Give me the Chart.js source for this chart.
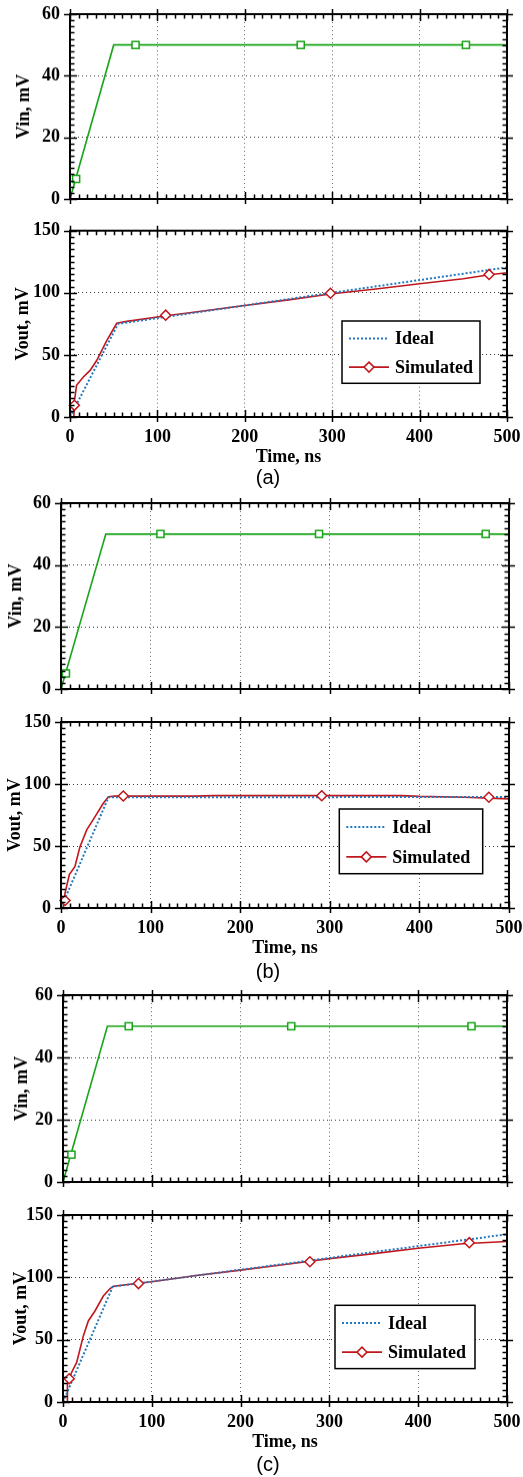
<!DOCTYPE html>
<html>
<head>
<meta charset="utf-8">
<script src="https://cdn.jsdelivr.net/npm/chart.js@4.4.1/dist/chart.umd.min.js"></script>
<style>
  body { margin: 0; background: #fff; width: 523px; height: 1477px; position: relative; overflow: hidden; }
  .box { position: absolute; left: 0; width: 523px; }
  .cap { position: absolute; left: 0; width: 536px; height: 24px; line-height: 24px; text-align: center;
         font: 20px "Liberation Sans", Arial, sans-serif; color: #000; }
</style>
</head>
<body>
<div class="box" style="top:0px;height:204.5px"><canvas id="c0"></canvas></div>
<div class="box" style="top:220px;height:248px"><canvas id="c1"></canvas></div>
<div class="cap" style="top:466px">(a)</div>
<div class="box" style="top:490px;height:204.5px"><canvas id="c2"></canvas></div>
<div class="box" style="top:712px;height:247px"><canvas id="c3"></canvas></div>
<div class="cap" style="top:960px">(b)</div>
<div class="box" style="top:982px;height:205.5px"><canvas id="c4"></canvas></div>
<div class="box" style="top:1205px;height:248px"><canvas id="c5"></canvas></div>
<div class="cap" style="top:1453px">(c)</div>

<script>
// axis ticks
const timeTicks = [0, 100, 200, 300, 400, 500];
const vinTicks = [0, 20, 40, 60];
const voutTicks = [0, 50, 100, 150];

// (a) input
const vinAT = [0, 50, 500];
const vinAV = [0, 50, 50];
const vinAMarkT = [7, 75, 264, 453];
const vinAMarkV = [6.5, 50, 50, 50];
// (a) output
const idealAT = [0, 55, 500];
const idealAV = [0, 75, 120.5];
const simAT = [3.5, 4.5, 7.5, 15, 23, 30.5, 42, 53.5, 65, 110, 137, 200, 250, 300, 350, 400, 450, 480, 500];
const simAV = [0, 10, 25.5, 32, 37.5, 45.5, 61.5, 75.5, 77, 81.5, 84, 89.8, 94.3, 99.2, 103, 107.3, 111.3, 114.5, 116.2];
const simAMarkT = [5, 109.5, 298, 479.5];
const simAMarkV = [9.4, 82, 99.6, 114.8];

// (b) input
const vinBT = [0, 50, 500];
const vinBV = [0, 50, 50];
const vinBMarkT = [5.5, 111, 288, 474];
const vinBMarkV = [5, 50, 50, 50];
// (b) output
const idealBT = [0, 53, 500];
const idealBV = [0, 89.3, 89.5];
const simBT = [2.6, 4.5, 9.3, 15.6, 21, 28.7, 38, 47.2, 53, 60, 150, 170, 250, 380, 400, 450, 500];
const simBV = [0, 12, 27, 33.5, 49, 63, 73.7, 84.5, 89.8, 90.2, 90.2, 90.6, 90.6, 90.6, 90, 89.3, 88];
const simBMarkT = [4.5, 69.5, 291, 477.5];
const simBMarkV = [6, 90.3, 90.5, 89.3];

// (c) input
const vinCT = [0, 50, 500];
const vinCV = [0, 50, 50];
const vinCMarkT = [9.5, 74, 257, 460];
const vinCMarkV = [8.8, 50, 50, 50];
// (c) output
const idealCT = [0, 56, 500];
const idealCV = [0, 92.5, 134.5];
const simCT = [4.8, 5, 9.8, 15.4, 22.9, 28.5, 36, 45.4, 53, 57, 100, 150, 200, 250, 300, 350, 400, 450, 500];
const simCV = [0, 14.6, 23.9, 31.8, 53, 65, 73, 85, 91, 92.8, 96.5, 101.5, 105.8, 110.3, 115, 119, 123.3, 127, 128.8];
const simCMarkT = [7, 85, 278, 457.5];
const simCMarkV = [18.6, 95, 112.5, 127.8];

const FONT = '"Liberation Serif", "Times New Roman", serif';
const GREEN = '#17a317';
const BLUE = '#2379c0';
const RED = '#c0161c';

// per-canvas frame settings (minor tick steps, legend box placement)
const frameCfg = {};

function pts(t, v) {
  return t.map((tt, i) => ({ x: tt, y: v[i] }));
}

// frame, inward minor ticks and the boxed legend
const framePlugin = {
  id: 'frame',
  afterDraw(chart) {
    const cfg = frameCfg[chart.canvas.id];
    const { ctx, chartArea: a } = chart;
    const xs = chart.scales.x, ys = chart.scales.y;
    ctx.save();
    ctx.strokeStyle = '#000';
    ctx.lineWidth = 1.5;
    ctx.setLineDash([]);
    ctx.beginPath();
    const isMajor = (v, step) => Math.abs(v / step - Math.round(v / step)) < 1e-6;
    for (let v = xs.min; v <= xs.max + 1e-6; v += cfg.xMinor) {
      const px = Math.round(xs.getPixelForValue(v)) + 0.5;
      const m = isMajor(v, cfg.xMajor);
      const inL = m ? 7 : 4.5, outL = m ? 5 : 0;
      ctx.moveTo(px, a.bottom + outL); ctx.lineTo(px, a.bottom - inL);
      ctx.moveTo(px, a.top - outL); ctx.lineTo(px, a.top + inL);
    }
    for (let v = ys.min; v <= ys.max + 1e-6; v += cfg.yMinor) {
      const py = Math.round(ys.getPixelForValue(v)) + 0.5;
      const m = isMajor(v, cfg.yMajor);
      const inL = m ? 7 : 4.5, outL = m ? 6 : 0;
      ctx.moveTo(a.left - outL, py); ctx.lineTo(a.left + inL, py);
      ctx.moveTo(a.right + outL, py); ctx.lineTo(a.right - inL, py);
    }
    ctx.stroke();
    ctx.lineWidth = 2;
    ctx.strokeRect(a.left, a.top, a.right - a.left, a.bottom - a.top);

    const lg = cfg.legend;
    if (lg) {
      const x0 = a.right - lg.right - lg.w, y0 = a.bottom - lg.bottom - lg.h;
      ctx.fillStyle = '#fff';
      ctx.fillRect(x0, y0, lg.w, lg.h);
      ctx.lineWidth = 1.5;
      ctx.strokeStyle = '#000';
      ctx.strokeRect(x0, y0, lg.w, lg.h);
      const items = chart.data.datasets.filter(d => d.inLegend);
      items.sort((p, q) => p.legendIndex - q.legendIndex);
      items.forEach((d, i) => {
        const yy = y0 + lg.h * (i === 0 ? 0.28 : 0.74);
        ctx.save();
        ctx.strokeStyle = d.borderColor;
        ctx.lineWidth = d.borderWidth;
        ctx.setLineDash(d.borderDash || []);
        ctx.beginPath();
        ctx.moveTo(x0 + 7, yy); ctx.lineTo(x0 + 47, yy);
        ctx.stroke();
        ctx.restore();
        if (d.legendMarker) {
          ctx.save();
          ctx.setLineDash([]);
          ctx.fillStyle = '#fff';
          ctx.strokeStyle = d.borderColor;
          ctx.lineWidth = 1.5;
          ctx.beginPath();
          ctx.moveTo(x0 + 22, yy); ctx.lineTo(x0 + 27, yy - 5);
          ctx.lineTo(x0 + 32, yy); ctx.lineTo(x0 + 27, yy + 5);
          ctx.closePath();
          ctx.fill(); ctx.stroke();
          ctx.restore();
        }
        ctx.fillStyle = '#000';
        ctx.font = 'bold 18px ' + FONT;
        ctx.textAlign = 'left';
        ctx.textBaseline = 'middle';
        ctx.fillText(d.label, x0 + 53, yy + 1);
      });
    }
    ctx.restore();
  }
};

function makeChart(id, p, datasets) {
  const yTicks = p.kind === 'vin' ? vinTicks : voutTicks;
  const tickFont = { family: FONT, size: 18, weight: 'bold' };
  frameCfg[id] = {
    xMinor: 10, xMajor: 100,
    yMinor: p.kind === 'vin' ? 2 : 5,
    yMajor: p.kind === 'vin' ? 20 : 50,
    legend: p.legend
  };
  return new Chart(document.getElementById(id), {
    type: 'line',
    data: { datasets: datasets },
    plugins: [framePlugin],
    options: {
      responsive: true,
      maintainAspectRatio: false,
      animation: false,
      events: [],
      layout: { padding: { top: p.padTop, right: p.padRight, left: 0, bottom: 0 } },
      plugins: {
        legend: { display: false },
        tooltip: { enabled: false }
      },
      scales: {
        x: {
          type: 'linear',
          min: timeTicks[0],
          max: timeTicks[timeTicks.length - 1],
          afterBuildTicks: s => { s.ticks = timeTicks.map(v => ({ value: v })); },
          afterFit: s => { s.height = p.xHeight; s.paddingLeft = 0; s.paddingRight = 0; },
          grid: { drawTicks: false, color: 'rgba(70,70,70,0.8)', lineWidth: 1 },
          border: { display: false, dash: [1, 3] },
          ticks: { display: p.kind === 'vout', autoSkip: false, maxRotation: 0, padding: 9.2, color: '#000', font: tickFont },
          title: { display: p.kind === 'vout', text: 'Time, ns', color: '#000', font: tickFont, padding: { top: 0, bottom: 0 } }
        },
        y: {
          type: 'linear',
          min: yTicks[0],
          max: yTicks[yTicks.length - 1],
          afterBuildTicks: s => { s.ticks = yTicks.map(v => ({ value: v })); },
          afterFit: s => { s.width = p.left; s.paddingTop = 0; s.paddingBottom = 0; },
          grid: { drawTicks: false, color: 'rgba(30,30,30,0.9)', lineWidth: 1 },
          border: { display: false, dash: [1, 3] },
          ticks: { autoSkip: false, padding: 10, color: '#000', font: tickFont },
          title: { display: true, text: p.kind === 'vin' ? 'Vin, mV' : 'Vout, mV', color: '#000', font: tickFont,
                   padding: { top: p.titlePad, bottom: 0 } }
        }
      }
    }
  });
}

function vinSets(t, v, mt, mv) {
  return [
    { data: pts(mt, mv), showLine: false, pointStyle: 'rect', pointRadius: 5, pointBorderWidth: 1.5,
      pointBorderColor: GREEN, pointBackgroundColor: '#fff', clip: false, order: 0 },
    { data: pts(t, v), borderColor: GREEN, borderWidth: 1.6, pointRadius: 0, tension: 0, order: 1 }
  ];
}

function voutSets(it, iv, st, sv, mt, mv) {
  return [
    { data: pts(mt, mv), showLine: false, pointStyle: 'rectRot', pointRadius: 5, pointBorderWidth: 1.5,
      pointBorderColor: RED, pointBackgroundColor: '#fff', clip: false, order: 0 },
    { label: 'Ideal', inLegend: true, legendIndex: 0, data: pts(it, iv), borderColor: BLUE, borderWidth: 2,
      borderDash: [2, 2], pointRadius: 0, tension: 0, order: 1 },
    { label: 'Simulated', inLegend: true, legendIndex: 1, legendMarker: true, data: pts(st, sv), borderColor: RED,
      borderWidth: 1.6, pointRadius: 0, tension: 0, order: 2 }
  ];
}

makeChart('c0', { kind: 'vin', padTop: 14, padRight: 16, left: 70, xHeight: 2, titlePad: 14 },
  vinSets(vinAT, vinAV, vinAMarkT, vinAMarkV));
makeChart('c1', { kind: 'vout', padTop: 10.7, padRight: 16, left: 70, xHeight: 51, titlePad: 13,
  legend: { right: 27, bottom: 33.7, w: 138, h: 62.3 } },
  voutSets(idealAT, idealAV, simAT, simAV, simAMarkT, simAMarkV));

makeChart('c2', { kind: 'vin', padTop: 13, padRight: 14, left: 61, xHeight: 2, titlePad: 5.8 },
  vinSets(vinBT, vinBV, vinBMarkT, vinBMarkV));
makeChart('c3', { kind: 'vout', padTop: 10, padRight: 14, left: 61, xHeight: 51, titlePad: 5,
  legend: { right: 26.3, bottom: 34.3, w: 143.4, h: 64.7 } },
  voutSets(idealBT, idealBV, simBT, simBV, simBMarkT, simBMarkV));

makeChart('c4', { kind: 'vin', padTop: 13, padRight: 16, left: 63, xHeight: 2, titlePad: 12 },
  vinSets(vinCT, vinCV, vinCMarkT, vinCMarkV));
makeChart('c5', { kind: 'vout', padTop: 10, padRight: 16, left: 63, xHeight: 51, titlePad: 10.7,
  legend: { right: 32, bottom: 33.4, w: 140, h: 63.3 } },
  voutSets(idealCT, idealCV, simCT, simCV, simCMarkT, simCMarkV));
</script>
</body>
</html>
